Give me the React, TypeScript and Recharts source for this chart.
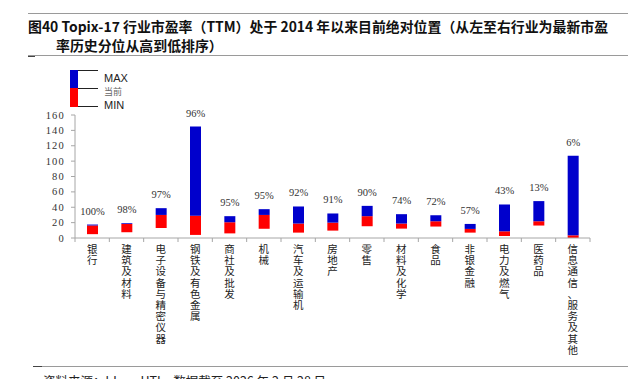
import React from "react";
import { BarChart, Bar, XAxis, YAxis, LabelList } from "recharts";

const categories = [
  "银行", "建筑及材料", "电子设备与精密仪器", "钢铁及有色金属", "商社及批发", "机械",
  "汽车及运输机", "房地产", "零售", "材料及化学", "食品", "非银金融", "电力及燃气",
  "医药品", "信息通信、服务及其他",
];
const minVals = [5, 7.5, 13, 4, 6, 12, 7, 9.6, 15.3, 12.2, 14.9, 7, 2.6, 16.2, 0];
const curVals = [16.3, 18.2, 30, 29, 20.5, 30, 18.8, 20, 28.4, 18.8, 21.8, 11.8, 8.7, 21.8, 3.5];
const maxVals = [17.5, 19.2, 38.8, 145, 28.4, 37.5, 41, 31.9, 41.8, 31, 29.6, 18.3, 43.6, 48, 107];
const pctLabels = ["100%", "98%", "97%", "96%", "95%", "95%", "92%", "91%", "90%", "74%", "72%", "57%", "43%", "13%", "6%"];
const yTicks = [0, 20, 40, 60, 80, 100, 120, 140, 160];

const data = categories.map((name, i) => ({
  name,
  base: minVals[i],
  low: curVals[i] - minVals[i],
  high: maxVals[i] - curVals[i],
  pct: pctLabels[i],
}));

const W = 628;
const H = 379;
const M = { top: 115, right: 38, left: 35, bottom: 20 };
const Y_W = 40;
const PLOT_W = W - M.left - M.right - Y_W;
const BAND = PLOT_W / categories.length;
const BLUE = "#0000CC";
const RED = "#FF0000";
const AXIS = "#a6a6a6";
const CJK = "'Noto Sans CJK SC', 'Noto Sans', sans-serif";
const SERIF = "'Liberation Serif', 'DejaVu Serif', serif";

const XTick = (props: any) => {
  const { x, y, payload, index } = props;
  const chars = String(payload.value).split("");
  return (
    <g>
      <line x1={x - BAND / 2} x2={x - BAND / 2} y1={y} y2={y + 4} stroke={AXIS} />
      {index === categories.length - 1 && (
        <line x1={x + BAND / 2} x2={x + BAND / 2} y1={y} y2={y + 4} stroke={AXIS} />
      )}
      <text x={x} y={y + 15} textAnchor="middle" fontSize={10.5} fill="#222" fontFamily={CJK}>
        {chars.map((c, i) => (
          <tspan key={i} x={x} dy={i === 0 ? 0 : 11.2}>{c}</tspan>
        ))}
      </text>
    </g>
  );
};

const YTick = (props: any) => {
  const { x, y, payload } = props;
  return (
    <text x={x} y={y} dy={3.5} textAnchor="end" fontSize={10.5} fill="#333"
      fontFamily={SERIF} style={{ letterSpacing: 1.2 }}>
      {payload.value}
    </text>
  );
};

const PctLabel = (props: any) => {
  const { x, y, width, value } = props;
  return (
    <text x={x + width / 2} y={y - 10} textAnchor="middle" fontSize={10.5} fill="#333"
      fontFamily={SERIF}>
      {value}
    </text>
  );
};

export default function App() {
  return (
    <div style={{ position: "absolute", left: 0, top: 0, width: W, height: H, background: "#fff", overflow: "hidden" }}>
      <div style={{ position: "absolute", left: 28, right: 0, top: 13, borderTop: "1.5px solid #9a9a9a" }} />
      <div style={{ position: "absolute", left: 28, top: 16, whiteSpace: "nowrap", fontFamily: CJK, fontWeight: 700, fontSize: 13.9, color: "#111" }}>
        图40 Topix-17 行业市盈率（TTM）处于 2014 年以来目前绝对位置（从左至右行业为最新市盈
      </div>
      <div style={{ position: "absolute", left: 56, top: 35, whiteSpace: "nowrap", fontFamily: CJK, fontWeight: 700, fontSize: 13.9, color: "#111" }}>
        率历史分位从高到低排序）
      </div>
      <div style={{ position: "absolute", left: 28, right: 0, top: 55, borderTop: "1.5px solid #9a9a9a" }} />
      <div style={{ position: "absolute", left: 28, width: 7, top: 56, borderTop: "1.5px solid #444" }} />

      {/* legend */}
      <div style={{ position: "absolute", left: 70, top: 70, width: 8, height: 18, background: BLUE }} />
      <div style={{ position: "absolute", left: 70, top: 88, width: 8, height: 19, background: RED }} />
      {[70, 88, 106].map((t) => (
        <div key={t} style={{ position: "absolute", left: 78, width: 20, top: t, borderTop: "1px solid #222" }} />
      ))}
      <div style={{ position: "absolute", left: 104, top: 72, fontFamily: "'Liberation Sans', sans-serif", fontSize: 11, color: "#222" }}>MAX</div>
      <div style={{ position: "absolute", left: 104, top: 85, fontFamily: CJK, fontSize: 9, color: "#666" }}>当前</div>
      <div style={{ position: "absolute", left: 104, top: 99, fontFamily: "'Liberation Sans', sans-serif", fontSize: 11, color: "#222" }}>MIN</div>

      <div style={{ position: "absolute", left: 0, top: 0 }}>
        <BarChart width={W} height={H} data={data} margin={M} barSize={11}>
          <XAxis dataKey="name" interval={0} height={121} tickSize={0} tickMargin={0}
            tickLine={false} axisLine={{ stroke: AXIS }} tick={<XTick />} />
          <YAxis width={Y_W} domain={[0, 160]} ticks={yTicks} interval={0} tickSize={4} tickMargin={6}
            axisLine={{ stroke: AXIS }} tickLine={{ stroke: AXIS }} tick={<YTick />} />
          <Bar dataKey="base" stackId="s" fill="transparent" isAnimationActive={false} />
          <Bar dataKey="low" stackId="s" fill={RED} isAnimationActive={false} />
          <Bar dataKey="high" stackId="s" fill={BLUE} isAnimationActive={false}>
            <LabelList dataKey="pct" content={<PctLabel />} />
          </Bar>
        </BarChart>
      </div>

      <div style={{ position: "absolute", left: 33, right: 0, top: 366, borderTop: "1.5px solid #9a9a9a" }} />
      <div style={{ position: "absolute", left: 33, width: 9, top: 366, borderTop: "1.5px solid #444" }} />
      <div style={{ position: "absolute", left: 43, top: 371, whiteSpace: "nowrap", fontFamily: CJK, fontSize: 12.5, color: "#222" }}>
        资料来源：bbg，HTI，数据截至 2026 年 2 月 28 日
      </div>
    </div>
  );
}
